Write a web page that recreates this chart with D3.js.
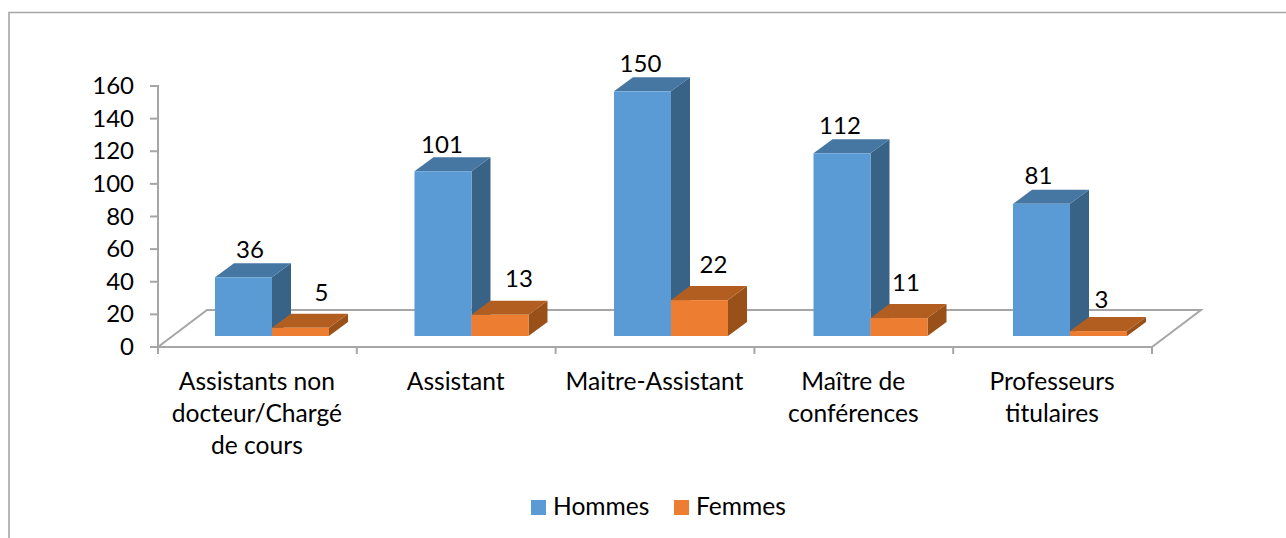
<!DOCTYPE html>
<html><head><meta charset="utf-8">
<script src="https://cdn.jsdelivr.net/npm/d3@7/dist/d3.min.js"></script>
<style>html,body{margin:0;padding:0;background:#fff}svg{display:block}text{font-family:Lato,"Open Sans",sans-serif;fill:#000}</style>
</head><body><svg id="c" width="1286" height="538"></svg>
<script>
const categories=[["Assistants non","docteur/Chargé","de cours"],["Assistant"],["Maitre-Assistant"],["Maître de","conférences"],["Professeurs","titulaires"]];
const seriesNames=["Hommes","Femmes"];
const hommes=[36,101,150,112,81];
const femmes=[5,13,22,11,3];
const yTicks=[0,20,40,60,80,100,120,140,160];
const colors={Hommes:{front:"#5b9bd5",top:"#4676a2",side:"#386387"},Femmes:{front:"#ed7d31",top:"#b25e20",side:"#9a5119"}};
// label placement relative to the bar's front face centre (layout only)
const labelNudge={Hommes:[6.5,-1,-2,-2,-3],Femmes:[21,19,14,7,3]};
const labelLift={Hommes:[5,4,5,5,6],Femmes:[13,14,13,13,9]};

const svg=d3.select("#c");
const x=d3.scaleBand().domain(d3.range(categories.length)).range([158,1152]);
const xBars=d3.scaleBand().domain(d3.range(categories.length)).range([158,1155.5]);
const y=d3.scaleLinear().domain([0,160]).range([347,86]);
const inner=d3.scaleBand().domain(seriesNames).range([57,171]);
const depth={dx:49,dy:-37};
const bar={dx:19,dy:-14,lift:11};
const grey="#a6a6a6";

svg.append("path").attr("d","M9,538V12.5H1286").attr("fill","none").attr("stroke",grey).attr("stroke-width",1.6);

const floor=d3.path();
floor.moveTo(x.range()[0],y(0));floor.lineTo(x.range()[0]+depth.dx,y(0)+depth.dy);
floor.lineTo(x.range()[1]+depth.dx,y(0)+depth.dy);floor.lineTo(x.range()[1],y(0));floor.closePath();
svg.append("path").attr("d",floor.toString()).attr("fill","none").attr("stroke",grey).attr("stroke-width",2);

const axis=svg.append("g").attr("stroke",grey).attr("stroke-width",2);
axis.append("line").attr("x1",158).attr("x2",158).attr("y1",y(160)-1).attr("y2",y(0)+1);
axis.selectAll(".yt").data(yTicks).join("line").attr("x1",150).attr("x2",158).attr("y1",d=>y(d)).attr("y2",d=>y(d));
axis.selectAll(".xt").data(d3.range(categories.length+1)).join("line")
 .attr("x1",d=>158+d*x.step()).attr("x2",d=>158+d*x.step()).attr("y1",347).attr("y2",354);

svg.selectAll(".yl").data(yTicks).join("text").attr("x",134).attr("y",d=>y(d)+8).attr("text-anchor","end")
 .attr("font-size",24).text(d=>d);

const rows=categories.map((c,i)=>[{s:"Hommes",v:hommes[i],i},{s:"Femmes",v:femmes[i],i}]).flat();
const g=svg.selectAll(".b").data(rows).join("g");
const h=d=>y(0)-y(d.v);
const geo=d=>({l:xBars(d.i)+inner(d.s),r:xBars(d.i)+inner(d.s)+inner.bandwidth(),b:y(0)-bar.lift,t:y(0)-bar.lift-h(d)});
g.append("path").attr("fill",d=>colors[d.s].side).attr("d",d=>{const k=geo(d);return `M${k.r},${k.t}L${k.r+bar.dx},${k.t+bar.dy}V${k.b+bar.dy}L${k.r},${k.b}Z`});
g.append("path").attr("fill",d=>colors[d.s].top).attr("d",d=>{const k=geo(d);return `M${k.l},${k.t}L${k.l+bar.dx},${k.t+bar.dy}H${k.r+bar.dx}L${k.r},${k.t}Z`});
g.append("rect").attr("fill",d=>colors[d.s].front).attr("x",d=>geo(d).l).attr("y",d=>geo(d).t).attr("width",inner.bandwidth()).attr("height",d=>h(d));
g.append("text").attr("text-anchor","middle").attr("font-size",24)
 .attr("x",d=>geo(d).l+inner.bandwidth()/2+labelNudge[d.s][d.i])
 .attr("y",d=>geo(d).t+bar.dy-labelLift[d.s][d.i]).text(d=>d.v);

categories.forEach((lines,i)=>{
 const t=svg.append("text").attr("text-anchor","middle").attr("font-size",24.6);
 lines.forEach((l,j)=>t.append("tspan").attr("x",x(i)+x.bandwidth()/2-0.5).attr("y",390+j*32).text(l));
});

const leg=svg.selectAll(".l").data(seriesNames).join("g").attr("transform",(d,i)=>`translate(${[531,674][i]},0)`);
leg.append("rect").attr("y",500).attr("width",15).attr("height",15).attr("fill",d=>colors[d].front);
leg.append("text").attr("x",22).attr("y",515).attr("font-size",24.6).text(d=>d);
</script></body></html>
